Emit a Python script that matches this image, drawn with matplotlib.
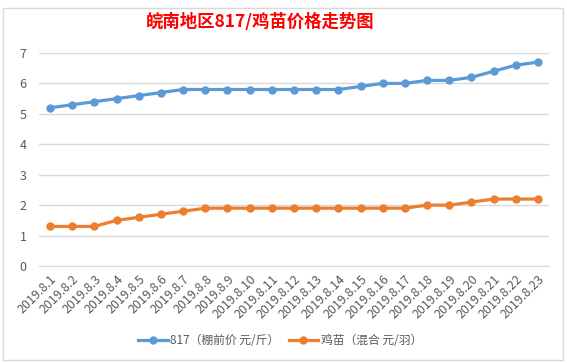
import matplotlib
matplotlib.use('Agg')
from matplotlib import pyplot as plt
from matplotlib.patches import Rectangle

plt.rcParams['font.family'] = ['Noto Sans CJK SC', 'DejaVu Sans']

title = '皖南地区817/鸡苗价格走势图'
dates = ['2019.8.%d' % d for d in range(1, 24)]
price_817 = [5.2, 5.3, 5.4, 5.5, 5.6, 5.7, 5.8, 5.8, 5.8, 5.8, 5.8, 5.8,
             5.8, 5.8, 5.9, 6.0, 6.0, 6.1, 6.1, 6.2, 6.4, 6.6, 6.7]
price_chick = [1.3, 1.3, 1.3, 1.5, 1.6, 1.7, 1.8, 1.9, 1.9, 1.9, 1.9, 1.9,
               1.9, 1.9, 1.9, 1.9, 1.9, 2.0, 2.0, 2.1, 2.2, 2.2, 2.2]
labels = ['817（棚前价 元/斤）', '鸡苗（混合 元/羽）']

fig = plt.figure(figsize=(5.67, 3.63), dpi=100)
W, H = 567, 363

# chart area border
fig.patches.append(Rectangle((3 / W, 3 / H), 560 / W, 352 / H, transform=fig.transFigure,
                             fill=False, edgecolor='#d9d9d9', lw=1))

ax = fig.add_axes([39 / W, 1 - 266 / H, 510 / W, 213 / H])
x = range(len(dates))
ax.plot(x, price_817, color='#5B9BD5', lw=2.3, marker='o', ms=5, label=labels[0])
ax.plot(x, price_chick, color='#ED7D31', lw=2.3, marker='o', ms=5, label=labels[1])

ax.set_xlim(-0.5, len(dates) - 0.5)
ax.set_ylim(0, 7)
ax.set_yticks(range(8))
ax.grid(axis='y', color='#d9d9d9', lw=1)
ax.set_axisbelow(True)
for s in ['top', 'right', 'left']:
    ax.spines[s].set_visible(False)
ax.spines['bottom'].set_color('#d9d9d9')
ax.tick_params(axis='both', length=0, colors='#595959', labelsize=9)
ax.tick_params(axis='y', pad=9)
ax.tick_params(axis='x', pad=5)
ax.set_xticks(list(x))
ax.set_xticklabels(dates, rotation=45, ha='right', rotation_mode='anchor')

fig.text(260 / W, 1 - 22 / H, title, color='red', fontsize=12.5, fontweight='bold',
         ha='center', va='center')

fig.legend(loc='center', bbox_to_anchor=(280 / W, 1 - 341 / H), ncol=2, frameon=False,
           fontsize=8.5, labelcolor='#595959', handlelength=2.5, handletextpad=0.2,
           columnspacing=0.8)

plt.savefig('out.png', dpi=100)
